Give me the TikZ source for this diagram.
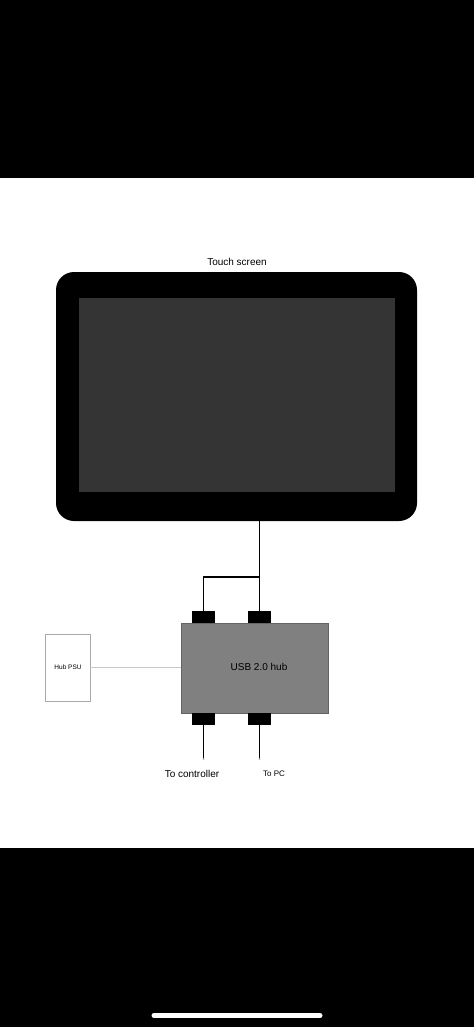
\documentclass[tikz,border=0pt]{standalone}
\usepackage{xcolor}
\usepackage{fontspec}
\setmainfont{Liberation Sans}
\usepackage{tikz}
\definecolor{panelgray}{RGB}{52,52,52}
\definecolor{hubgray}{RGB}{128,128,128}
\definecolor{hubedge}{RGB}{100,100,100}
\definecolor{psuedge}{RGB}{170,170,170}
\definecolor{wiregray}{RGB}{200,200,200}
\usetikzlibrary{calc}

\begin{document}
\begin{tikzpicture}[x=1pt,y=-1pt,
    port/.style={fill=black, minimum width=23pt, minimum height=12pt, inner sep=0pt},
    cable/.style={draw=black, line width=1.8pt},
    label/.style={inner sep=0pt, font=\fontsize{10}{12}\selectfont}]
    % Phone frame: black bands and white page
    \useasboundingbox (0,0) rectangle (474,1027);
    \fill[black] (0,0) rectangle (474,1027);
    \fill[white] (0,178) rectangle (474,848);
    \draw[white, line width=5pt, line cap=round] (154,1015.5) -- (320,1015.5);

    % Touch screen with its dark panel
    \node[fill=black, rounded corners=18pt, minimum width=361pt, minimum height=249pt, inner sep=0pt] (screen) at (236.5,396.5) {};
    \node[fill=panelgray, minimum width=316pt, minimum height=194pt, inner sep=0pt] (panel) at (237,395) {};
    \node[label] (screenlabel) at (237,262) {Touch screen};

    % USB hub and its ports
    \node[fill=hubgray, draw=hubedge, line width=0.6pt, minimum width=147pt, minimum height=90pt, inner sep=0pt] (hub) at (254.5,668) {};
    \node[label] (hublabel) at (259,667) {USB 2.0 hub};
    \foreach \i/\x/\y in {1/203.5/617, 2/259.5/617, 3/203.5/718.5, 4/259.5/718.5} {
        \node[port] (port\i) at (\x,\y) {};
    }

    % Power supply
    \node[draw=psuedge, fill=white, line width=0.6pt, minimum width=45pt, minimum height=67pt, inner sep=0pt] (psu) at (67.5,667.5) {};
    \node[inner sep=0pt, font=\fontsize{6.5}{8}\selectfont] (psulabel) at (68,667) {Hub PSU};
    \draw[wiregray, line width=1pt] (psu.east) -- (hub.west |- psu.east);

    % Cables from screen to hub
    \coordinate (split) at (259.5,577);
    \draw[cable] (port2.north |- screen.south) -- (port2.north);
    \draw[cable] (split) -| (port1.north);

    % Cables leaving the hub
    \coordinate (ctrl) at (203.5,759);
    \coordinate (pc) at (259.5,759);
    \draw[cable] (port3.south) -- (ctrl);
    \draw[cable] (port4.south) -- (pc);
    \fill[gray!60] (ctrl) circle (1pt) (pc) circle (1pt);
    \node[label] (toctrl) at (192,774) {To controller};
    \node[inner sep=0pt, font=\fontsize{8}{10}\selectfont] (topc) at (274,774) {To PC};
\end{tikzpicture}
\end{document}
